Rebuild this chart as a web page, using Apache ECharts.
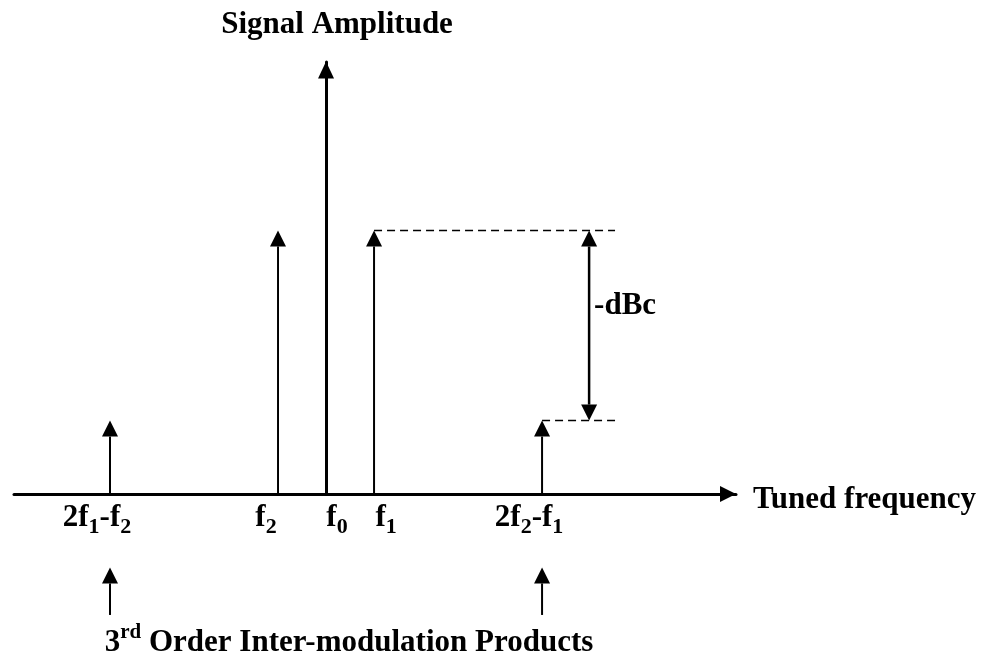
<!DOCTYPE html>
<html><head><meta charset="utf-8">
<script src="https://cdn.jsdelivr.net/npm/echarts@6/dist/echarts.min.js"></script>
<style>html,body{margin:0;padding:0;background:#fff}#c{width:993px;height:662px}</style>
</head><body><div id="c"></div>
<script>
// ---- data ----
const toneLabels = ['{m|2f}{s|1}{m|-f}{s|2}', '{m|f}{s|2}', '{m|f}{s|0}', '{m|f}{s|1}', '{m|2f}{s|2}{m|-f}{s|1}'];
const tonePos    = [-4.5, -1, 0, 1, 4.5];          // frequency, in units of tone spacing
const toneLevels = [17, 61, 100, 61, 17];          // relative amplitude (f0 = amplitude axis)
const imdPos     = [-4.5, 4.5];                    // 3rd order products marked below the axis
const pointerFrom = -28, pointerTo = -17;
const dbcX = 5.48;                                 // position of the -dBc dimension arrow
const refLineEnd = 6.02;                           // end of the dashed reference lines
const xMin = -6.5, xMax = 8.54, yMin = 0, yMax = 100;
const axisNames = { x: 'Tuned frequency', y: 'Signal Amplitude' };
const dbcText = '-dBc';
const footerText = '{m|3}{p|rd}{m| Order Inter-modulation Products}';

// ---- styling ----
const FONT = '"Liberation Serif","Times New Roman",serif';
const FS = 31;
const labelShift = [-13, -12, 11, 12, -13];
const rich = {
  m: { fontSize: FS, fontWeight: 'bold', fontFamily: FONT, color: '#000', lineHeight: 36, verticalAlign: 'top' },
  s: { fontSize: 22, fontWeight: 'bold', fontFamily: FONT, color: '#000', lineHeight: 22, verticalAlign: 'bottom' },
  p: { fontSize: 21, fontWeight: 'bold', fontFamily: FONT, color: '#000', lineHeight: 21, verticalAlign: 'top' }
};
const richFooter = {
  m: { fontSize: FS, fontWeight: 'bold', fontFamily: FONT, color: '#000', lineHeight: 36, verticalAlign: 'bottom' },
  p: rich.p
};

function arrowGroup(p0, p1, both, lw) {
  const HL = 16, HW = 8;
  const dir = p1[1] < p0[1] ? -1 : 1;
  const kids = [];
  const a = both ? [p0[0], p0[1] + dir * HL] : p0;
  const b = [p1[0], p1[1] - dir * HL];
  kids.push({ type: 'line', shape: { x1: a[0], y1: a[1], x2: b[0], y2: b[1] }, style: { stroke: '#000', lineWidth: lw } });
  const tri = (t, d) => ({ type: 'polygon', shape: { points: [[t[0], t[1]], [t[0] - HW, t[1] - d * HL], [t[0] + HW, t[1] - d * HL]] }, style: { fill: '#000' } });
  kids.push(tri(p1, dir));
  if (both) kids.push(tri(p0, -dir));
  return { type: 'group', children: kids };
}

const spectralData = [];
tonePos.forEach((x, i) => { if (x !== 0) spectralData.push([x, 0, toneLevels[i]]); });
const pointerData = imdPos.map(x => [x, pointerFrom, pointerTo]);
const carrierLevel = toneLevels[3], imdLevel = toneLevels[4];
const dashData = [[tonePos[3], refLineEnd, carrierLevel], [tonePos[4], refLineEnd, imdLevel]];
const labelData = tonePos.map((x, i) => [x, 0, i]);

const chart = echarts.init(document.getElementById('c'), null, { renderer: 'canvas' });
chart.setOption({
  animation: false,
  backgroundColor: '#fff',
  grid: { left: 14, right: 257, top: 62, bottom: 168 },
  xAxis: {
    type: 'value', min: xMin, max: xMax,
    name: '{n|' + axisNames.x + '}', nameLocation: 'end', nameGap: 17,
    nameTextStyle: { verticalAlign: 'middle',
      rich: { n: { fontSize: FS, fontWeight: 'bold', fontFamily: FONT, color: '#000', lineHeight: 36, padding: [12, 0, 0, 0] } } },
    axisLine: { show: true, onZero: true, lineStyle: { color: '#000', width: 3 }, symbol: ['none', 'triangle'], symbolSize: [16, 16], symbolOffset: [0, -8] },
    axisTick: { show: false }, axisLabel: { show: false }, splitLine: { show: false }
  },
  yAxis: {
    type: 'value', min: yMin, max: yMax,
    name: axisNames.y, nameLocation: 'end', nameGap: 22,
    nameTextStyle: { fontSize: FS, fontWeight: 'bold', fontFamily: FONT, color: '#000', padding: [0, 0, 0, 22] },
    axisLine: { show: true, onZero: true, lineStyle: { color: '#000', width: 3 }, symbol: ['none', 'triangle'], symbolSize: [16, 17], symbolOffset: [0, -8] },
    axisTick: { show: false }, axisLabel: { show: false }, splitLine: { show: false }
  },
  series: [
    {
      type: 'custom', name: 'tones', clip: false, silent: true,
      data: spectralData,
      renderItem: (params, api) => arrowGroup(api.coord([api.value(0), api.value(1)]), api.coord([api.value(0), api.value(2)]), false, 2)
    },
    {
      type: 'custom', name: 'pointers', clip: false, silent: true,
      data: pointerData,
      renderItem: (params, api) => arrowGroup(api.coord([api.value(0), api.value(1)]), api.coord([api.value(0), api.value(2)]), false, 2)
    },
    {
      type: 'custom', name: 'dBc', clip: false, silent: true,
      data: [[dbcX, imdLevel, carrierLevel]],
      renderItem: (params, api) => {
        const p0 = api.coord([api.value(0), api.value(1)]);
        const p1 = api.coord([api.value(0), api.value(2)]);
        const g = arrowGroup(p0, p1, true, 2.5);
        g.children.push({ type: 'text', x: p0[0] + 5, y: (p0[1] + p1[1]) / 2 - 20,
          style: { text: dbcText, fontSize: FS, fontWeight: 'bold', fontFamily: FONT, fill: '#000', align: 'left', verticalAlign: 'middle' } });
        return g;
      }
    },
    {
      type: 'custom', name: 'refLines', clip: false, silent: true,
      data: dashData,
      renderItem: (params, api) => {
        const a = api.coord([api.value(0), api.value(2)]);
        const b = api.coord([api.value(1), api.value(2)]);
        return { type: 'line', shape: { x1: a[0], y1: a[1], x2: b[0], y2: b[1] }, style: { stroke: '#000', lineWidth: 1.5, lineDash: [8, 5] } };
      }
    },
    {
      type: 'custom', name: 'labels', clip: false, silent: true,
      data: labelData,
      renderItem: (params, api) => {
        const p = api.coord([api.value(0), api.value(1)]);
        const i = api.value(2);
        return { type: 'text', x: p[0] + labelShift[i], y: p[1] + 26,
          style: { text: toneLabels[i], rich: rich, align: 'center', verticalAlign: 'middle' } };
      }
    }
  ],
  graphic: [
    { type: 'text', x: 349, y: 640, style: { text: footerText, rich: richFooter, align: 'center', verticalAlign: 'middle' } }
  ]
});
</script></body></html>
